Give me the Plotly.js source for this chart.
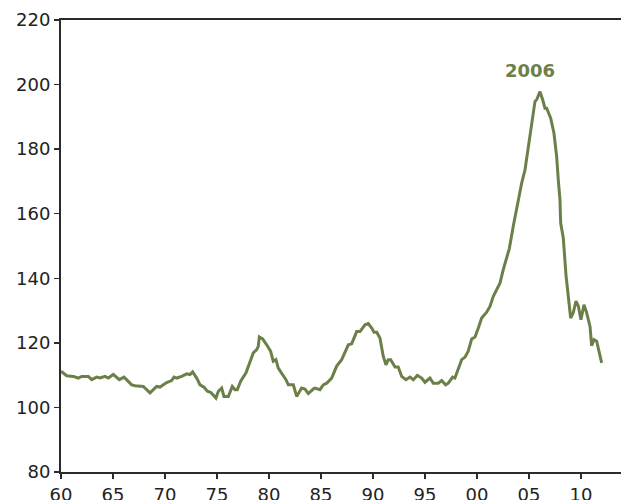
<!DOCTYPE html>
<html>
<head>
<meta charset="utf-8">
<script src="https://cdn.plot.ly/plotly-3.0.1.min.js"></script>
<style>html,body{margin:0;padding:0;background:#fff;}#chart{width:621px;height:500px;}</style>
</head>
<body>
<div id="chart"></div>
<script>
var years = [1960.00,1960.55,1961.18,1961.66,1961.99,1962.63,1962.95,1963.43,1963.75,1964.23,1964.55,1965.03,1965.61,1966.06,1966.80,1967.12,1967.91,1968.56,1969.20,1969.52,1970.16,1970.64,1970.87,1971.13,1971.61,1972.09,1972.40,1972.66,1973.05,1973.37,1973.75,1974.07,1974.39,1974.90,1975.13,1975.45,1975.67,1976.09,1976.47,1976.73,1976.95,1977.28,1977.79,1978.24,1978.49,1978.82,1978.97,1979.07,1979.39,1979.78,1980.16,1980.41,1980.67,1980.89,1981.32,1981.63,1981.86,1982.34,1982.66,1983.14,1983.46,1983.78,1984.26,1984.42,1984.90,1985.22,1985.55,1986.03,1986.51,1986.99,1987.63,1987.95,1988.43,1988.75,1989.23,1989.55,1989.88,1990.10,1990.36,1990.67,1990.99,1991.25,1991.47,1991.70,1992.12,1992.43,1992.76,1993.17,1993.56,1993.88,1994.26,1994.68,1995.00,1995.48,1995.80,1996.28,1996.61,1996.99,1997.24,1997.66,1997.88,1998.20,1998.53,1998.85,1999.16,1999.49,1999.81,2000.13,2000.45,2000.93,2001.25,2001.57,2001.89,2002.21,2002.53,2002.86,2003.11,2003.49,2003.97,2004.30,2004.62,2004.93,2005.26,2005.58,2005.74,2006.06,2006.32,2006.54,2006.70,2007.09,2007.40,2007.66,2007.82,2007.98,2008.05,2008.30,2008.56,2008.78,2009.01,2009.26,2009.52,2009.74,2010.00,2010.29,2010.55,2010.87,2011.03,2011.25,2011.51,2011.99];
var values = [111.2,109.8,109.6,109.1,109.6,109.6,108.6,109.4,109.1,109.6,109.1,110.2,108.6,109.4,107.0,106.7,106.5,104.5,106.5,106.3,107.7,108.3,109.4,109.1,109.6,110.4,110.2,111.0,109.1,107.0,106.3,105.0,104.7,102.9,105.0,106.0,103.4,103.4,106.5,105.5,105.5,108.1,110.7,114.8,116.9,117.9,118.9,121.8,121.2,119.4,117.4,114.3,114.8,112.2,110.2,108.6,107.0,107.0,103.4,106.0,105.7,104.3,105.7,106.0,105.5,107.0,107.5,109.1,112.8,114.8,119.4,119.7,123.5,123.5,125.6,126.0,124.6,123.3,123.3,121.5,115.8,113.2,114.8,114.8,112.5,112.5,109.6,108.6,109.4,108.6,109.9,109.1,107.8,109.1,107.5,107.5,108.3,107.0,107.5,109.4,109.1,111.7,114.8,115.6,117.4,121.2,121.8,124.6,127.7,129.5,131.3,134.4,136.3,138.5,142.7,146.8,149.2,156.1,164.4,169.5,173.6,180.9,188.1,194.8,195.3,197.8,195.3,192.7,192.7,189.6,185.0,177.8,170.5,164.4,157.1,152.5,141.0,135.0,127.7,129.3,132.9,131.5,127.2,131.8,129.3,125.1,119.1,121.0,120.5,113.8];
var xTickVals = [1960,1965,1970,1975,1980,1985,1990,1995,2000,2005,2010];
var xTickText = ["60","65","70","75","80","85","90","95","00","05","10"];
var yTickVals = [80,100,120,140,160,180,200,220];
var peakLabel = "2006";
var peakLabelPos = {x: 2005.1, y: 204.4};

var lineColor = "#6b8049";
var axisColor = "#2b2b2b";
var font = {family: "DejaVu Sans, Verdana, sans-serif", size: 18, color: "#222"};

var trace = {
  x: years, y: values, type: "scatter", mode: "lines",
  line: {color: lineColor, width: 3}, hoverinfo: "skip"
};

var layout = {
  width: 621, height: 500,
  margin: {l: 61, r: 0, t: 20, b: 28, pad: 0},
  paper_bgcolor: "#fff", plot_bgcolor: "#fff",
  showlegend: false,
  font: font,
  xaxis: {
    range: [1960, 2013.85], tickvals: xTickVals, ticktext: xTickText,
    showgrid: false, zeroline: false, showline: true, linecolor: axisColor, linewidth: 2,
    mirror: true, ticks: "outside", ticklen: 5, tickwidth: 1.5, tickcolor: axisColor,
    tickfont: font
  },
  yaxis: {
    range: [80, 220], tickvals: yTickVals,
    showgrid: false, zeroline: false, showline: true, linecolor: axisColor, linewidth: 2,
    ticks: "outside", ticklen: 5, tickwidth: 1.5, tickcolor: axisColor,
    tickfont: font
  },
  annotations: [{
    x: peakLabelPos.x, y: peakLabelPos.y, xref: "x", yref: "y",
    text: "<b>" + peakLabel + "</b>", showarrow: false,
    font: {family: "DejaVu Sans, Verdana, sans-serif", size: 18, color: lineColor}
  }]
};

Plotly.newPlot("chart", [trace], layout, {displayModeBar: false, staticPlot: true});
</script>
</body>
</html>
